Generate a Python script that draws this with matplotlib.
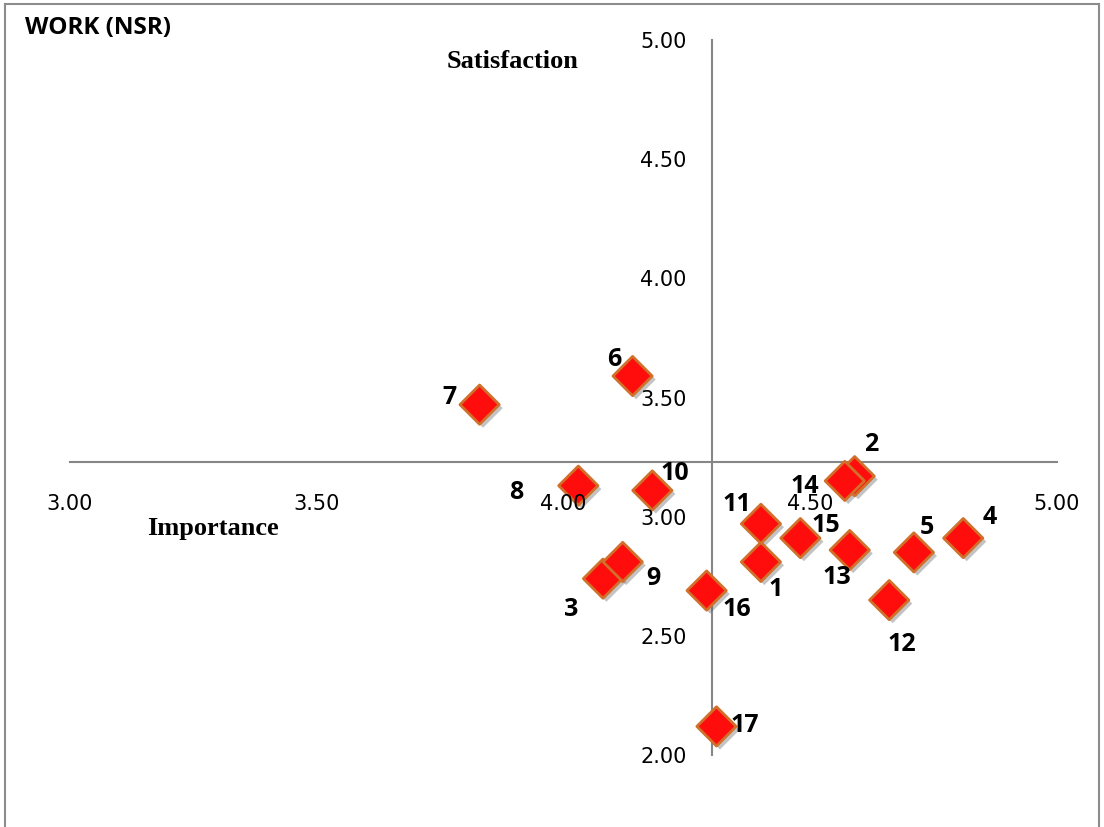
import matplotlib
matplotlib.use("Agg")
import matplotlib.pyplot as plt
import matplotlib.patheffects as pe
from matplotlib.lines import Line2D

# ---- data ----
labels = ["1", "2", "3", "4", "5", "6", "7", "8", "9", "10",
          "11", "12", "13", "14", "15", "16", "17"]
importance = [4.40, 4.59, 4.08, 4.81, 4.71, 4.14, 3.83, 4.03, 4.12, 4.18,
              4.40, 4.66, 4.58, 4.57, 4.48, 4.29, 4.31]
satisfaction = [2.81, 3.17, 2.74, 2.91, 2.85, 3.59, 3.47, 3.13, 2.81, 3.11,
                2.97, 2.65, 2.86, 3.15, 2.91, 2.69, 2.12]
x_ticks = [3.00, 3.50, 4.00, 4.50, 5.00]
y_ticks = [2.00, 2.50, 3.00, 3.50, 4.00, 4.50, 5.00]
x_cross = 4.30   # vertical axis crosses here
y_cross = 3.23   # horizontal axis crosses here

# label offsets (points) - layout only
label_offsets = [(11, -20), (12, 23), (-23, -22), (19, 15), (9, 18), (-13, 12),
                 (-22, 5), (-45, -5), (22, -12), (16, 12), (-17, 14), (9, -32),
                 (-9, -20), (-29, -4), (18, 9), (22, -14), (20, 1)]

W, H = 1104, 827
fig = plt.figure(figsize=(W / 100, H / 100), dpi=100)
fig.patch.set_facecolor("white")

# outer border (left, top, right)
border_col = "#8c8c8c"
for xs, ys in [([5 / W, 5 / W], [0, 1 - 4 / H]),
               ([5 / W, 1099 / W], [1 - 4 / H, 1 - 4 / H]),
               ([1099 / W, 1099 / W], [0, 1 - 4 / H])]:
    fig.add_artist(Line2D(xs, ys, transform=fig.transFigure, color=border_col, lw=1.5))

ax = fig.add_axes([70 / W, 1 - 755 / H, (1057 - 70) / W, (755 - 40) / H])
ax.set_xlim(3.0, 5.0)
ax.set_ylim(2.0, 5.0)

axis_col = "#868686"
for s in ["top", "right"]:
    ax.spines[s].set_visible(False)
ax.spines["left"].set_position(("data", x_cross))
ax.spines["bottom"].set_position(("data", y_cross))
for s in ["left", "bottom"]:
    ax.spines[s].set_color(axis_col)
    ax.spines[s].set_linewidth(1.5)
    ax.spines[s].set_zorder(0.5)

ax.set_xticks(x_ticks)
ax.set_xticklabels([f"{v:.2f}" for v in x_ticks])
ax.set_yticks(y_ticks)
ax.set_yticklabels([f"{v:.2f}" for v in y_ticks])
ax.tick_params(axis="both", length=0, labelsize=15, colors="black")
ax.tick_params(axis="x", pad=23)
ax.tick_params(axis="y", pad=18)
for t in ax.get_xticklabels() + ax.get_yticklabels():
    t.set_fontfamily("DejaVu Sans")

sc = ax.scatter(importance, satisfaction, marker="D", s=20 ** 2,
                facecolor="#FF0D0D", edgecolor="#D0702A", linewidths=2.0,
                zorder=1, clip_on=False)
sc.set_path_effects([pe.SimplePatchShadow(offset=(2.5, -2.5), shadow_rgbFace="#555555", alpha=0.35),
                     pe.Normal()])

for lab, xv, yv, off in zip(labels, importance, satisfaction, label_offsets):
    ax.annotate(lab, (xv, yv), xytext=off, textcoords="offset points",
                ha="center", va="center", fontsize=18, fontweight="bold",
                family="Open Sans", color="black", zorder=4)

fig.text(25 / W, 1 - 28 / H, "WORK (NSR)", ha="left", va="center",
         fontsize=17.5, fontweight="bold", family="Open Sans")
fig.text(513 / W, 1 - 62 / H, "Satisfaction", ha="center", va="center",
         fontsize=19, fontweight="bold", family="Liberation Serif")
fig.text(213 / W, 1 - 528 / H, "Importance", ha="center", va="center",
         fontsize=19, fontweight="bold", family="Liberation Serif")

fig.savefig("out.png", dpi=100)
